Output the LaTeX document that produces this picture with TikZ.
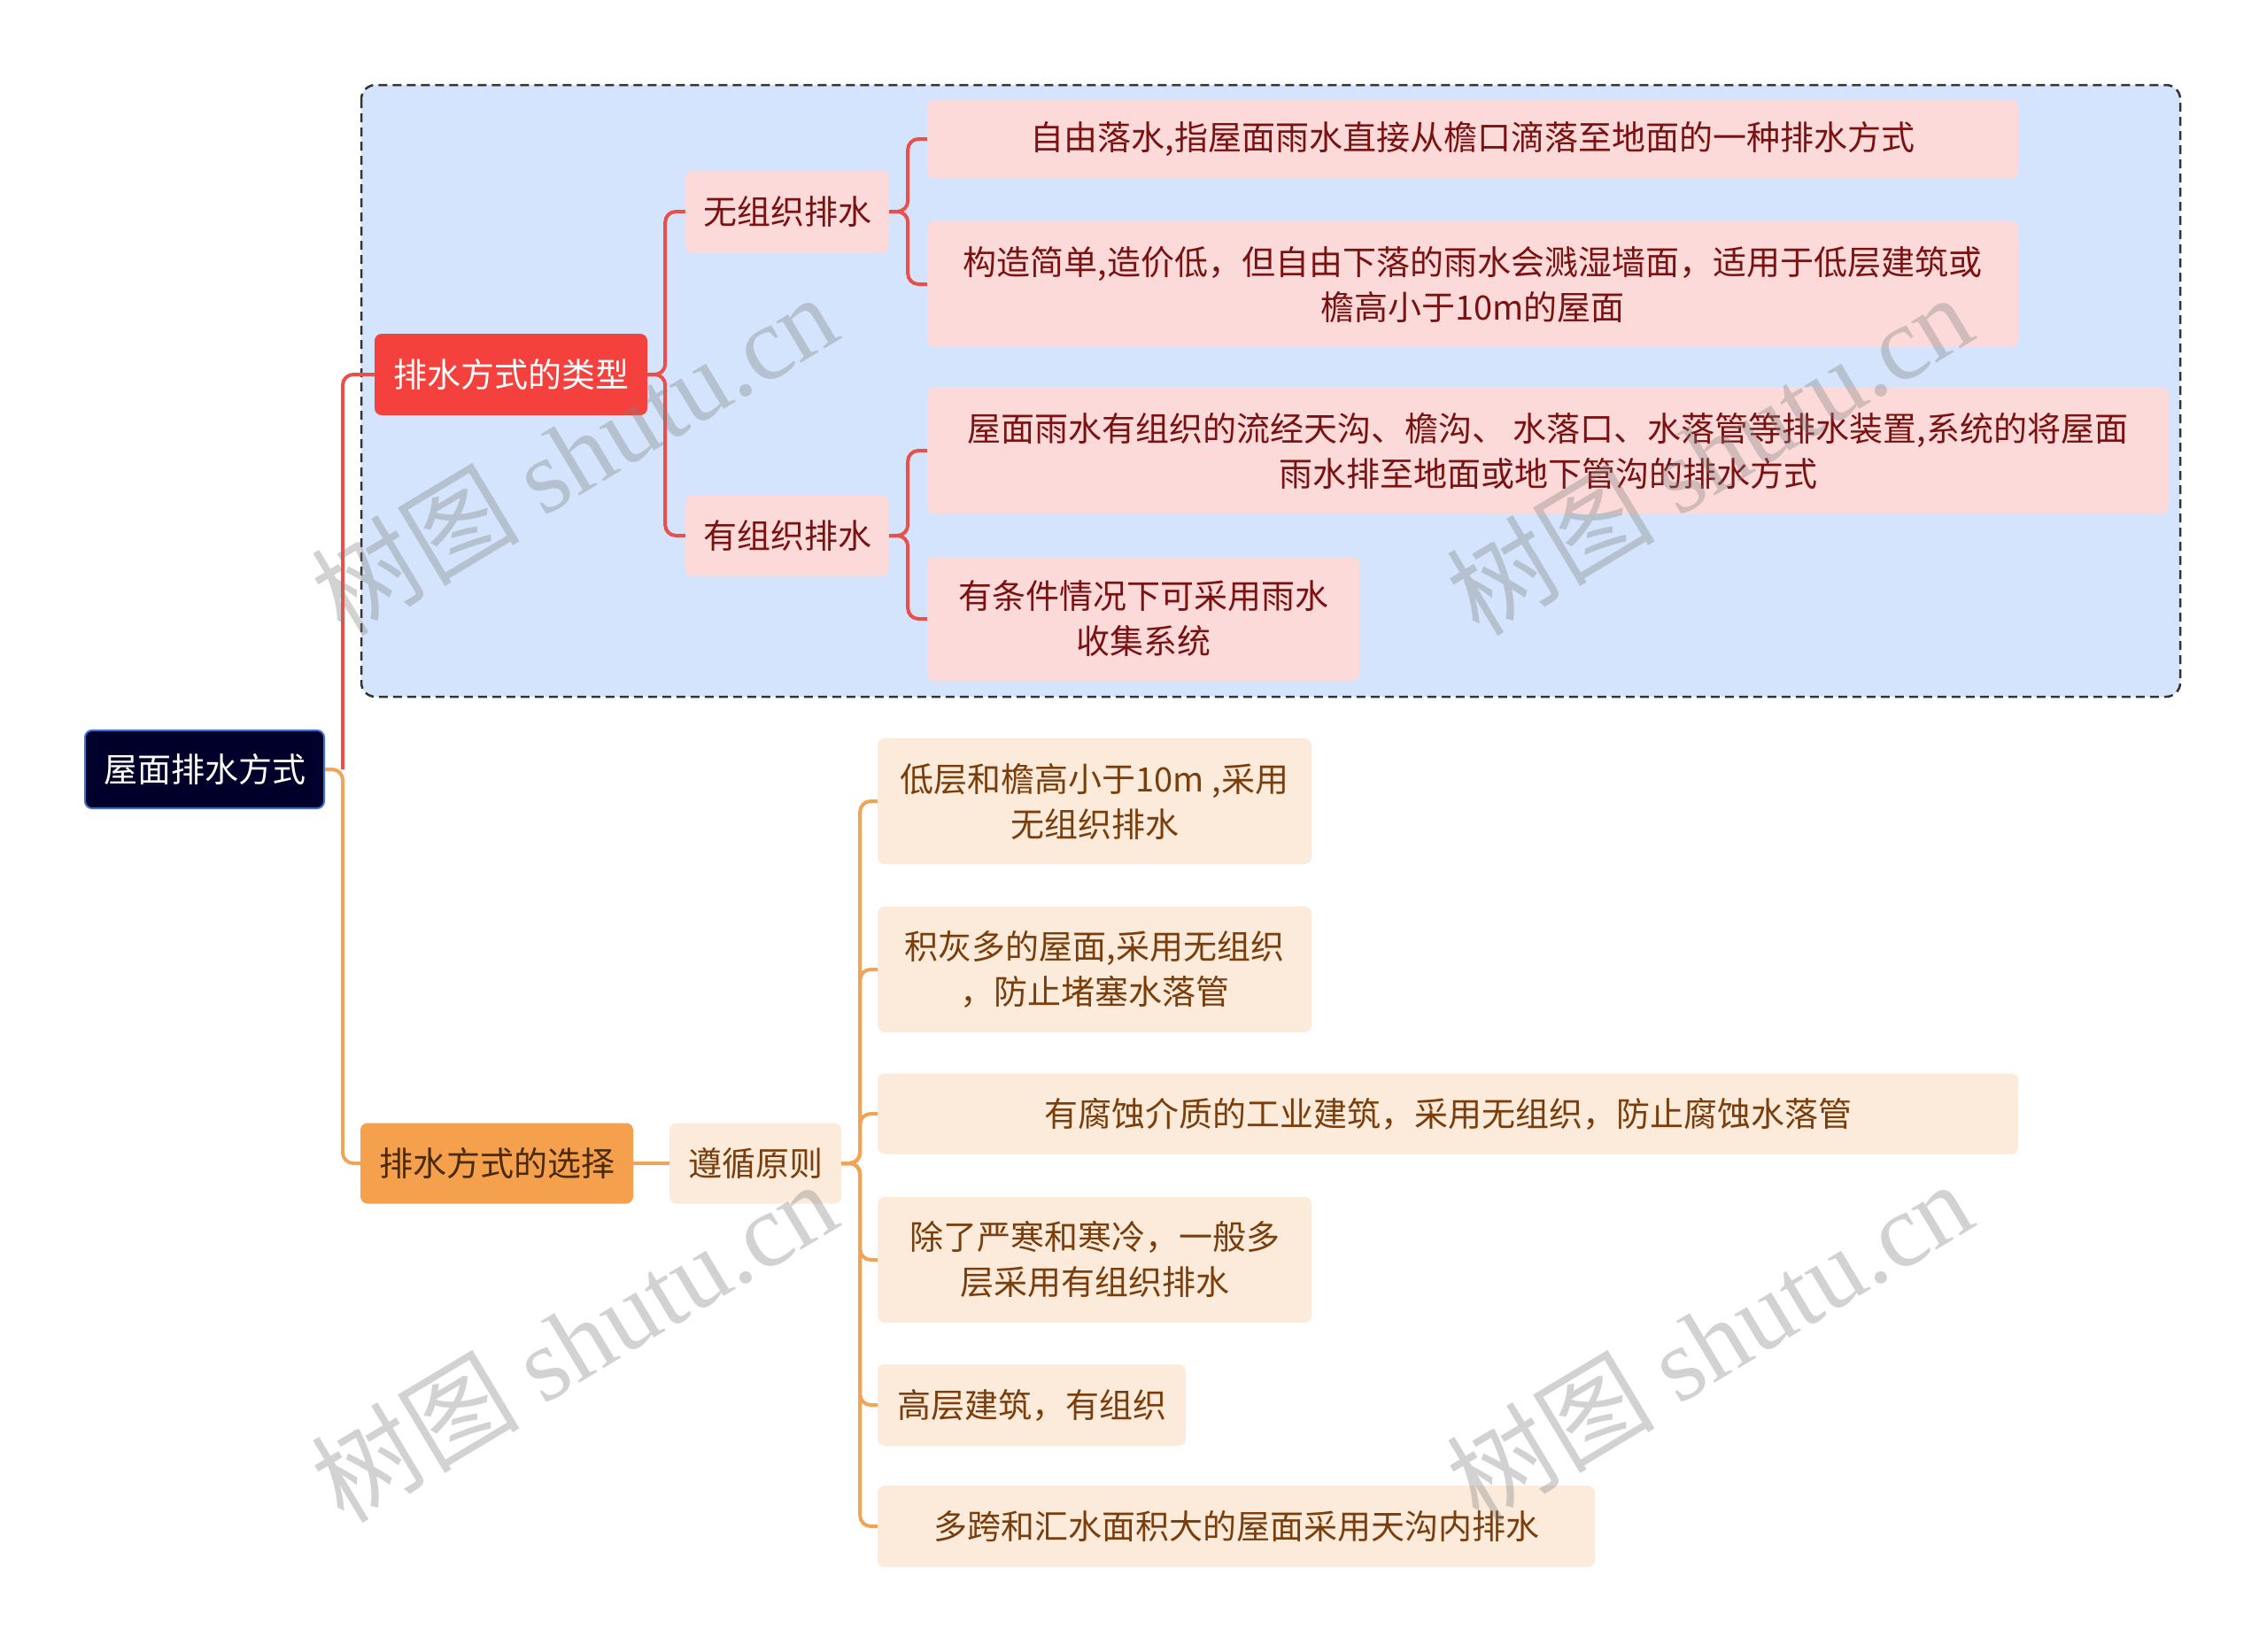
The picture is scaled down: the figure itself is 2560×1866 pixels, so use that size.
\documentclass[tikz,border=0pt]{standalone}
\usepackage{fontspec}
\setmainfont{Noto Sans CJK SC}
\newfontfamily\wmlatin{Liberation Serif}
\newfontfamily\wmcjk{Noto Sans CJK SC}
\definecolor{bluebg}{HTML}{D4E4FC}
\definecolor{redmain}{HTML}{F5413E}
\definecolor{redline}{HTML}{E8504C}
\definecolor{pinkleaf}{HTML}{FCDADA}
\definecolor{redtext}{HTML}{7A1212}
\definecolor{orangemain}{HTML}{F5A04D}
\definecolor{orangeline}{HTML}{F0A455}
\definecolor{orangeleaf}{HTML}{FCEBDB}
\definecolor{browntext}{HTML}{7A3E0C}
\definecolor{darkbrown}{HTML}{4A2A08}
\definecolor{rootfill}{HTML}{00002A}
\definecolor{rootborder}{HTML}{3F6FD0}
\begin{document}
\begin{tikzpicture}[x=1pt,y=-1pt,
  every node/.style={font=\fontsize{38}{51}\selectfont, align=center, inner sep=0pt},
  rootbox/.style={fill=rootfill, draw=rootborder, line width=2pt, rounded corners=8pt, text=white},
  redbox/.style={fill=redmain, rounded corners=8pt, text=white},
  pinkbox/.style={fill=pinkleaf, rounded corners=8pt, text=redtext},
  orangebox/.style={fill=orangemain, rounded corners=8pt, text=darkbrown},
  obox/.style={fill=orangeleaf, rounded corners=8pt, text=browntext},
  rlink/.style={draw=redline, line width=4pt, rounded corners=12pt},
  olink/.style={draw=orangeline, line width=4pt, rounded corners=12pt},
  wm/.style={text=gray, opacity=0.35, rotate=31, font=\fontsize{118}{118}\selectfont}
]
\useasboundingbox (0,0) rectangle (2560,1866);
\fill[white] (0,0) rectangle (2560,1866);

% group box
\draw[fill=bluebg, draw=black!80, dash pattern=on 10pt off 6pt, line width=2.5pt, rounded corners=16pt] (408,96) rectangle (2462,787);

% nodes
\node[rootbox, minimum width=270pt, minimum height=88pt] (root) at (231,869) {屋面排水方式};
\node[redbox, minimum width=308pt, minimum height=92pt] (type) at (577,423) {排水方式的类型};
\node[orangebox, minimum width=308pt, minimum height=91pt] (choice) at (561,1314) {排水方式的选择};

\node[pinkbox, minimum width=230pt, minimum height=93pt] (wu) at (889,239) {无组织排水};
\node[pinkbox, minimum width=230pt, minimum height=91pt] (you) at (889,605) {有组织排水};

\node[pinkbox, minimum width=1232pt, minimum height=89pt] (l1) at (1663,157) {自由落水,指屋面雨水直接从檐口滴落至地面的一种排水方式};
\node[pinkbox, minimum width=1232pt, minimum height=142pt] (l2) at (1663,321) {构造简单,造价低，但自由下落的雨水会溅湿墙面，适用于低层建筑或\\檐高小于10m的屋面};
\node[pinkbox, minimum width=1402pt, minimum height=143pt] (l3) at (1748,509) {屋面雨水有组织的流经天沟、檐沟、 水落口、水落管等排水装置,系统的将屋面\\雨水排至地面或地下管沟的排水方式};
\node[pinkbox, minimum width=488pt, minimum height=140pt] (l4) at (1291,699) {有条件情况下可采用雨水\\收集系统};

\node[obox, minimum width=194pt, minimum height=91pt] (zx) at (853,1314) {遵循原则};

\node[obox, minimum width=490pt, minimum height=142pt] (o1) at (1236,905) {低层和檐高小于10m ,采用\\无组织排水};
\node[obox, minimum width=490pt, minimum height=142pt] (o2) at (1236,1095) {积灰多的屋面,采用无组织\\，防止堵塞水落管};
\node[obox, minimum width=1288pt, minimum height=91pt] (o3) at (1635,1258) {有腐蚀介质的工业建筑，采用无组织，防止腐蚀水落管};
\node[obox, minimum width=490pt, minimum height=142pt] (o4) at (1236,1423) {除了严寒和寒冷，一般多\\层采用有组织排水};
\node[obox, minimum width=348pt, minimum height=92pt] (o5) at (1165,1587) {高层建筑，有组织};
\node[obox, minimum width=810pt, minimum height=92pt] (o6) at (1396,1724) {多跨和汇水面积大的屋面采用天沟内排水};

% connectors
\draw[olink] (root.east) -- ++(20,0) |- (choice.west);
\draw[rlink] ([xshift=20pt]root.east) |- (type.west);
\draw[rlink] (type.east) -- ++(20,0) |- (wu.west);
\draw[rlink] (type.east) -- ++(20,0) |- (you.west);
\draw[rlink] (wu.east) -- ++(21,0) |- (l1.west);
\draw[rlink] (wu.east) -- ++(21,0) |- (l2.west);
\draw[rlink] (you.east) -- ++(21,0) |- (l3.west);
\draw[rlink] (you.east) -- ++(21,0) |- (l4.west);
\draw[olink] (choice.east) -- (zx.west);
\foreach \o in {o1,o2,o3,o4,o5,o6}
  \draw[olink] (zx.east) -- ++(21,0) |- (\o.west);

% watermarks
\node[wm] (w1) at (648,512) {{\wmcjk 树图} {\wmlatin shutu.cn}};
\node[wm] (w2) at (1930,512) {{\wmcjk 树图} {\wmlatin shutu.cn}};
\node[wm] (w3) at (648,1514) {{\wmcjk 树图} {\wmlatin shutu.cn}};
\node[wm] (w4) at (1930,1514) {{\wmcjk 树图} {\wmlatin shutu.cn}};
\end{tikzpicture}
\end{document}
